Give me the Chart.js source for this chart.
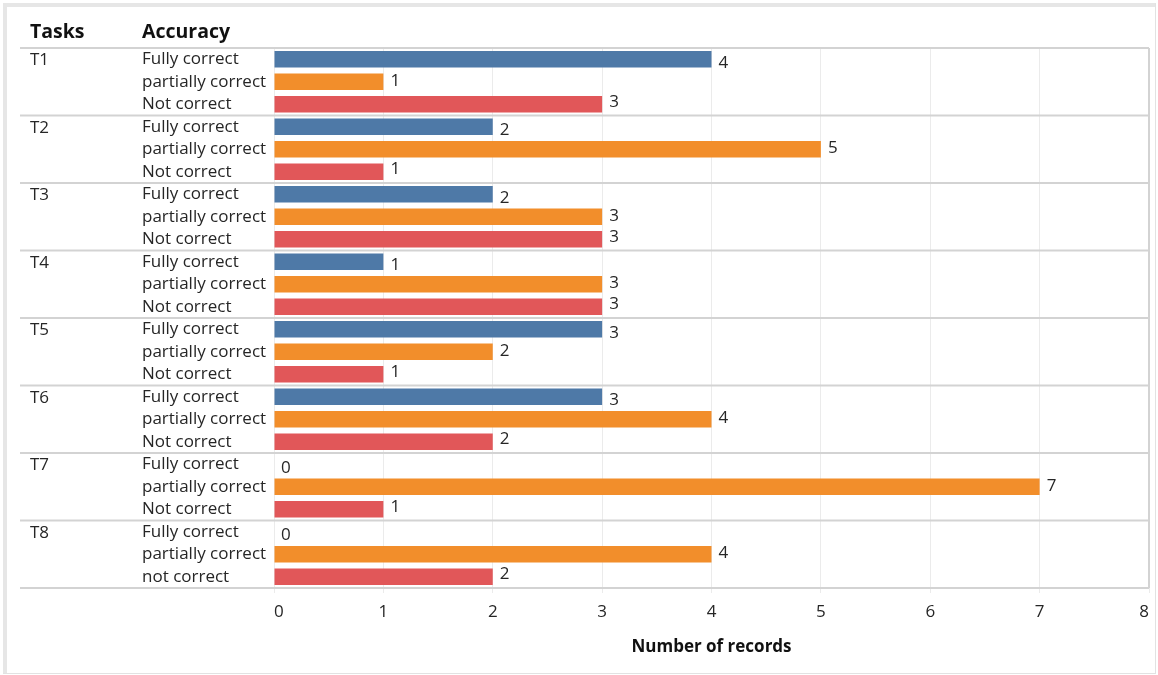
<!DOCTYPE html>
<html>
<head>
<meta charset="utf-8">
<script src="https://cdn.jsdelivr.net/npm/chart.js@4/dist/chart.umd.min.js"></script>
<style>
  html, body { margin: 0; padding: 0; background: #ffffff; }
  #wrap { position: relative; width: 1158px; height: 675px; }
</style>
</head>
<body>
<div id="wrap"><canvas id="chart" width="1158" height="675"></canvas></div>
<script>
// Number of records per task and accuracy level
const tasks = ['T1', 'T2', 'T3', 'T4', 'T5', 'T6', 'T7', 'T8'];
const fullyCorrect     = [4, 2, 2, 1, 3, 3, 0, 0];
const partiallyCorrect = [1, 5, 3, 3, 2, 4, 7, 4];
const notCorrect       = [3, 1, 3, 3, 1, 2, 1, 2];

// Row labels (three accuracy rows per task)
const rowLabels = [
  'Fully correct', 'partially correct', 'Not correct',
  'Fully correct', 'partially correct', 'Not correct',
  'Fully correct', 'partially correct', 'Not correct',
  'Fully correct', 'partially correct', 'Not correct',
  'Fully correct', 'partially correct', 'Not correct',
  'Fully correct', 'partially correct', 'Not correct',
  'Fully correct', 'partially correct', 'Not correct',
  'Fully correct', 'partially correct', 'not correct'
];
const xTicks = [0, 1, 2, 3, 4, 5, 6, 7, 8];
const xTitle = 'Number of records';
const headers = { tasks: 'Tasks', accuracy: 'Accuracy' };

const COLORS = ['#4e79a7', '#f28e2b', '#e15759'];
const FONT = '"Open Sans", "DejaVu Sans", sans-serif';
const TEXT = '#262626';
const RULE = '#d3d3d3';
const LABEL_SIZE = 17;

// Spread each series over its own rows (slot 0, 1 or 2 of every task block)
function spread(values, slot) {
  const out = new Array(tasks.length * 3).fill(null);
  values.forEach((v, i) => { out[i * 3 + slot] = v; });
  return out;
}
const series = [fullyCorrect, partiallyCorrect, notCorrect];

const frame = {
  id: 'frame',
  beforeDraw(chart) {
    const ctx = chart.ctx;
    const W = chart.width, H = chart.height;
    ctx.save();
    ctx.fillStyle = '#ffffff';
    ctx.fillRect(0, 0, W, H);
    ctx.fillStyle = '#e6e6e6';
    ctx.fillRect(3, 3, W - 5, 4);
    ctx.fillRect(3, 3, 4, H - 4);
    ctx.fillStyle = '#e2e2e2';
    ctx.fillRect(W - 3, 3, 1, H - 4);
    ctx.fillRect(3, H - 2, W - 5, 1);
    // column headers
    ctx.fillStyle = '#111111';
    ctx.font = 'bold 19.5px ' + FONT;
    ctx.textBaseline = 'middle';
    ctx.textAlign = 'left';
    ctx.fillText(headers.tasks, 30, 32);
    ctx.fillText(headers.accuracy, 142, 32);
    ctx.restore();
  },
  beforeDatasetsDraw(chart) {
    const ctx = chart.ctx;
    const y = chart.scales.y;
    const area = chart.chartArea;
    const half = (y.getPixelForValue(1) - y.getPixelForValue(0)) / 2;
    ctx.save();
    ctx.strokeStyle = RULE;
    ctx.lineWidth = 2;
    ctx.beginPath();
    for (let t = 0; t <= tasks.length; t++) {
      const py = t < tasks.length ? y.getPixelForValue(t * 3) - half
                                  : y.getPixelForValue(t * 3 - 1) + half;
      ctx.moveTo(20, py);
      ctx.lineTo(area.right, py);
    }
    ctx.moveTo(area.right, area.top);
    ctx.lineTo(area.right, area.bottom);
    ctx.stroke();
    // task names beside their first row
    ctx.fillStyle = TEXT;
    ctx.font = LABEL_SIZE + 'px ' + FONT;
    ctx.textBaseline = 'middle';
    ctx.textAlign = 'left';
    tasks.forEach((name, i) => {
      ctx.fillText(name, 30, y.getPixelForValue(i * 3) + 1);
    });
    ctx.restore();
  },
  afterDatasetsDraw(chart) {
    const ctx = chart.ctx;
    const shift = [3.5, -1, -2.5];
    ctx.save();
    ctx.fillStyle = TEXT;
    ctx.font = LABEL_SIZE + 'px ' + FONT;
    ctx.textBaseline = 'middle';
    ctx.textAlign = 'left';
    chart.data.datasets.forEach((ds, di) => {
      chart.getDatasetMeta(di).data.forEach((bar, i) => {
        const v = ds.data[i];
        if (v === null || v === undefined) return;
        ctx.fillText(String(v), bar.x + 7, bar.y + shift[di]);
      });
    });
    ctx.restore();
  }
};

new Chart(document.getElementById('chart'), {
  type: 'bar',
  data: {
    labels: rowLabels,
    datasets: series.map((vals, k) => ({
      label: rowLabels[k],
      data: spread(vals, k),
      backgroundColor: COLORS[k],
      borderWidth: 0,
      grouped: false,
      categoryPercentage: 1,
      barPercentage: 0.73
    }))
  },
  options: {
    indexAxis: 'y',
    responsive: false,
    animation: false,
    layout: { padding: { left: 142, top: 48, right: 8, bottom: 0 } },
    plugins: { legend: { display: false }, tooltip: { enabled: false } },
    scales: {
      x: {
        type: 'linear',
        min: xTicks[0],
        max: xTicks[xTicks.length - 1],
        afterBuildTicks(scale) { scale.ticks = xTicks.map(v => ({ value: v })); },
        afterFit(scale) { scale.height = 87; },
        grid: { color: '#ebebeb', lineWidth: 1, tickLength: 5, drawOnChartArea: true },
        border: { display: false },
        ticks: {
          align: 'inner',
          padding: 9,
          color: TEXT,
          font: { family: FONT, size: LABEL_SIZE }
        },
        title: {
          display: true,
          text: xTitle,
          color: '#111111',
          font: { family: FONT, size: 17, weight: 'bold' },
          padding: { top: 0, bottom: 18 }
        }
      },
      y: {
        type: 'category',
        offset: true,
        afterFit(scale) { scale.width = 132; },
        grid: { display: false },
        border: { display: false },
        ticks: {
          autoSkip: false,
          crossAlign: 'far',
          color: TEXT,
          font: { family: FONT, size: LABEL_SIZE }
        }
      }
    }
  },
  plugins: [frame]
});
</script>
</body>
</html>
